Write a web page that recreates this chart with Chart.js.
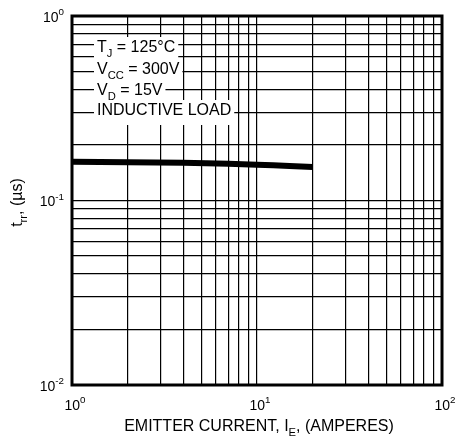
<!DOCTYPE html>
<html>
<head>
<meta charset="utf-8">
<script src="https://cdn.jsdelivr.net/npm/chart.js@4/dist/chart.umd.min.js"></script>
<style>
  html, body { margin: 0; padding: 0; background: #fff; }
  #wrap { width: 457px; height: 441px; }
</style>
</head>
<body>
<div id="wrap"><canvas id="trr"></canvas></div>
<script>
// emitter current (A) and reverse recovery time (us)
const current = [1, 2, 4, 7, 10, 15, 20];
const trr = [0.162, 0.161, 0.160, 0.158, 0.156, 0.154, 0.152];

// log grid values
const xGrid = [1, 2, 3, 4, 5, 6, 7, 8, 9, 10, 20, 30, 40, 50, 60, 70, 80, 90, 100];
const yGrid = [0.01, 0.02, 0.03, 0.04, 0.05, 0.06, 0.07, 0.08, 0.09,
               0.1, 0.2, 0.3, 0.4, 0.5, 0.6, 0.7, 0.8, 0.9, 1];
const xTicks = [1, 10, 100];
const xTickExp = ["0", "1", "2"];
const yTicks = [1, 0.1, 0.01];
const yTickExp = ["0", "-1", "-2"];

const FONT = '"Liberation Sans", Arial, Helvetica, sans-serif';

// draw text made of parts, some sub/superscript
function richWidth(ctx, parts, size) {
    let w = 0;
    parts.forEach(p => {
        ctx.font = (p.sub || p.sup ? size * 0.7 : size) + "px " + FONT;
        w += ctx.measureText(p.t).width;
    });
    return w;
}
function drawRich(ctx, parts, x, y, size, align) {
    const w = richWidth(ctx, parts, size);
    let cx = align === "center" ? x - w / 2 : align === "right" ? x - w : x;
    ctx.textBaseline = "middle";
    ctx.textAlign = "left";
    parts.forEach(p => {
        const s = p.sub || p.sup ? size * 0.7 : size;
        ctx.font = s + "px " + FONT;
        let dy = 0;
        if (p.sub) dy = size * 0.35;
        if (p.sup) dy = -size * 0.38;
        ctx.fillText(p.t, cx, y + dy);
        cx += ctx.measureText(p.t).width;
    });
    return w;
}

const notes = [
    [{t: "T"}, {t: "J", sub: true}, {t: " = 125°C"}],
    [{t: "V"}, {t: "CC", sub: true}, {t: " = 300V"}],
    [{t: "V"}, {t: "D", sub: true}, {t: " = 15V"}],
    [{t: "INDUCTIVE LOAD"}]
];

const decor = {
    id: "decor",
    afterDatasetsDraw(chart) {
        const ctx = chart.ctx;
        const a = chart.chartArea;
        const sx = chart.scales.x, sy = chart.scales.y;
        ctx.save();
        ctx.fillStyle = "#000";

        // condition notes with white backing
        const nx = a.left + 25;
        const ny = [a.top + 32, a.top + 54, a.top + 75, a.top + 95];
        notes.forEach((n, i) => {
            const w = richWidth(ctx, n, 16);
            ctx.fillStyle = "#fff";
            const bottom = i === notes.length - 1 ? 14 : 11;
            ctx.fillRect(nx - 3, ny[i] - 11, w + 6, 11 + bottom);
        });
        ctx.fillStyle = "#000";
        notes.forEach((n, i) => drawRich(ctx, n, nx, ny[i], 16, "left"));

        // frame
        ctx.strokeStyle = "#000";
        ctx.lineWidth = 3;
        ctx.strokeRect(a.left, a.top, a.right - a.left, a.bottom - a.top);

        // tick labels
        xTicks.forEach((v, i) => {
            drawRich(ctx, [{t: "10"}, {t: xTickExp[i], sup: true}],
                sx.getPixelForValue(v) + 3, a.bottom + 21, 14, "center");
        });
        yTicks.forEach((v, i) => {
            drawRich(ctx, [{t: "10"}, {t: yTickExp[i], sup: true}],
                a.left - 8, sy.getPixelForValue(v) + 2, 14, "right");
        });

        // axis titles
        drawRich(ctx, [{t: "EMITTER CURRENT, I"}, {t: "E", sub: true}, {t: ", (AMPERES)"}],
            (a.left + a.right) / 2 + 2, a.bottom + 42, 16, "center");
        ctx.translate(18, (a.top + a.bottom) / 2 + 2);
        ctx.rotate(-Math.PI / 2);
        drawRich(ctx, [{t: "t"}, {t: "rr", sub: true}, {t: ", (µs)"}], 0, 0, 16, "center");
        ctx.restore();
    }
};

new Chart(document.getElementById("trr"), {
    type: "line",
    data: {
        datasets: [
            {
                label: "trr",
                data: current.map((c, i) => ({x: c, y: trr[i]})),
                borderColor: "#000",
                borderWidth: 6,
                borderCapStyle: "butt",
                pointRadius: 0,
                tension: 0.3,
                fill: false,
            },
        ],
    },
    options: {
        responsive: true,
        maintainAspectRatio: false,
        animation: false,
        layout: {
            padding: {top: 16, right: 15, left: 0, bottom: 0},
        },
        scales: {
            x: {
                type: "logarithmic",
                min: 1,
                max: 100,
                afterBuildTicks: s => { s.ticks = xGrid.map(v => ({value: v})); },
                afterFit: s => { s.height = 56; },
                ticks: {display: false},
                border: {display: false},
                grid: {
                    color: "#000",
                    lineWidth: 1.2,
                    drawTicks: false,
                },
            },
            y: {
                type: "logarithmic",
                min: 0.01,
                max: 1,
                afterBuildTicks: s => { s.ticks = yGrid.map(v => ({value: v})); },
                afterFit: s => { s.width = 72; },
                ticks: {display: false},
                border: {display: false},
                grid: {
                    color: "#000",
                    lineWidth: 1.2,
                    drawTicks: false,
                },
            },
        },
        plugins: {
            legend: {display: false},
            tooltip: {enabled: false},
        },
    },
    plugins: [decor],
});
</script>
</body>
</html>
